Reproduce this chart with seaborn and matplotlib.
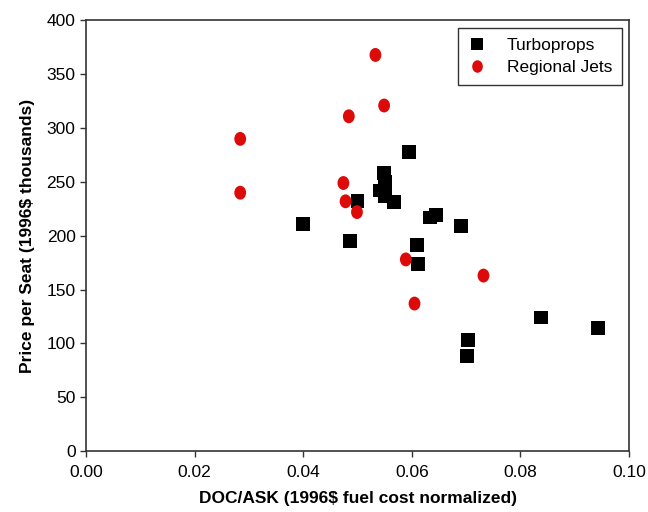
import numpy as np
import pandas as pd
import matplotlib
matplotlib.use("Agg")
import matplotlib.pyplot as plt
import seaborn as sns
from matplotlib.path import Path
from matplotlib.transforms import Affine2D

# Data
tp_x = [0.0400, 0.0487, 0.0500, 0.0595, 0.0549, 0.0551, 0.0541, 0.0550, 0.0568,
        0.0634, 0.0645, 0.0691, 0.0609, 0.0611, 0.0703, 0.0702, 0.0838, 0.0943]
tp_y = [211, 195, 232, 278, 258, 250, 242, 237, 231,
        217, 219, 209, 191, 174, 103, 88, 124, 114]
rj_x = [0.0284, 0.0284, 0.0533, 0.0549, 0.0484, 0.0474, 0.0478, 0.0499,
        0.0589, 0.0732, 0.0605]
rj_y = [290, 240, 368, 321, 311, 249, 232, 222, 178, 163, 137]
categories = ["Turboprops", "Regional Jets"]
x_ticks = [0.00, 0.02, 0.04, 0.06, 0.08, 0.10]
y_ticks = [0, 50, 100, 150, 200, 250, 300, 350, 400]

df = pd.DataFrame({
    "x": tp_x + rj_x,
    "y": tp_y + rj_y,
    "type": [categories[0]] * len(tp_x) + [categories[1]] * len(rj_x),
})

sns.set_style("ticks")
plt.rcParams["font.family"] = ["Liberation Sans", "DejaVu Sans"]
plt.rcParams["text.color"] = "black"
plt.rcParams["axes.labelcolor"] = "black"
plt.rcParams["xtick.labelcolor"] = "black"
plt.rcParams["ytick.labelcolor"] = "black"

ellipse = Path.unit_circle().transformed(Affine2D().scale(0.85, 1.0))

fig = plt.figure(figsize=(6.48, 5.12), dpi=100)
ax = fig.add_axes([0.1327, 0.1191, 0.8380, 0.8409])

sns.scatterplot(data=df, x="x", y="y", hue="type", style="type",
                hue_order=categories, style_order=categories,
                palette={"Turboprops": "black", "Regional Jets": "#dd0a0a"},
                markers={"Turboprops": "s", "Regional Jets": ellipse},
                s=100, edgecolor="none", linewidth=0, ax=ax)

ax.set_xlim(0, 0.10)
ax.set_ylim(0, 400)
ax.set_xticks(x_ticks)
ax.set_xticklabels([f"{v:.2f}" for v in x_ticks])
ax.set_yticks(y_ticks)
ax.tick_params(axis="both", direction="out", length=4, width=1, color="#333333",
               labelsize=12.5, labelcolor="black", top=False, right=False)
ax.tick_params(axis="x", pad=6)
for sp in ax.spines.values():
    sp.set_visible(True)
    sp.set_color("#333333")
    sp.set_linewidth(1.2)

ax.set_xlabel("DOC/ASK (1996$ fuel cost normalized)", fontsize=12.5,
              fontweight="bold", labelpad=8, color="black")
ax.set_ylabel("Price per Seat (1996$ thousands)", fontsize=12.5,
              fontweight="bold", labelpad=8, color="black")

handles, labels = ax.get_legend_handles_labels()
leg = ax.legend(handles, labels, loc="upper right", bbox_to_anchor=(0.988, 0.983),
                borderaxespad=0, frameon=True, fancybox=False, fontsize=12.5,
                handlelength=1.0, handletextpad=1.2, borderpad=0.6,
                labelspacing=0.35, markerscale=0.9)
leg.get_frame().set_edgecolor("black")
leg.get_frame().set_linewidth(1.0)
for t in leg.get_texts():
    t.set_color("black")

fig.savefig("out.png", dpi=100)
